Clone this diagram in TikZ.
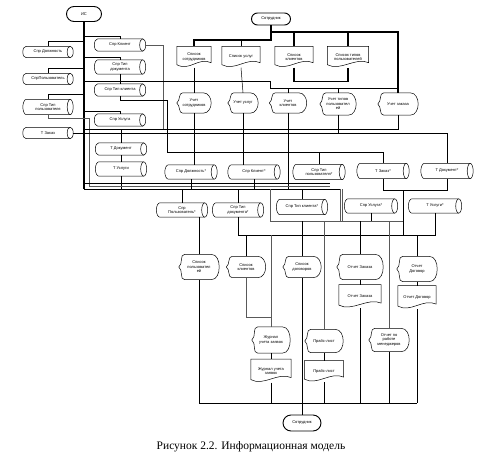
\documentclass[tikz,border=0pt]{standalone}
\usepackage{fontspec}
\setmainfont{Liberation Serif}
\newfontfamily\arialfont{Liberation Sans}
\usetikzlibrary{shapes.misc, positioning, calc}
\newcommand{\nodefont}{\arialfont\fontsize{4}{4.5}\selectfont}

\begin{document}
\begin{tikzpicture}[
    x=1pt, y=1pt,
    term/.style={rounded rectangle, draw, line width=0.9pt, minimum width=40, minimum height=13, inner sep=1pt, font=\nodefont},
    cyl/.style={minimum width=51, minimum height=12, inner sep=0.5pt, align=center, font=\nodefont,
        append after command={\pgfextra{\draw[line width=0.5pt] ($(\tikzlastnode.north west)+(3.5,0)$) -- ($(\tikzlastnode.north east)+(-3,0)$) .. controls +(1.7,0) and +(0,3.6) .. (\tikzlastnode.east) .. controls +(0,-3.6) and +(1.7,0) .. ($(\tikzlastnode.south east)+(-3,0)$) -- ($(\tikzlastnode.south west)+(3.5,0)$) .. controls +(-1.9,0) and +(0,-3.6) .. (\tikzlastnode.west) .. controls +(0,3.6) and +(-1.9,0) .. ($(\tikzlastnode.north west)+(3.5,0)$) -- cycle;
            \draw[line width=0.5pt] ($(\tikzlastnode.north east)+(-3,0)$) .. controls +(-1.7,0) and +(0,3.6) .. ($(\tikzlastnode.east)+(-6,0)$) .. controls +(0,-3.6) and +(-1.7,0) .. ($(\tikzlastnode.south east)+(-3,0)$);}}},
    doc/.style={minimum width=38, minimum height=21, inner sep=0.5pt, align=center, font=\nodefont,
        append after command={\pgfextra{\draw[line width=0.5pt] (\tikzlastnode.north west) -- ($(\tikzlastnode.south west)+(0,3)$) .. controls +(13,-7) and +(-13,6) .. ($(\tikzlastnode.south east)+(0,5)$) -- (\tikzlastnode.north east) -- cycle;}}},
    disp/.style={minimum width=38, minimum height=21, inner sep=0.5pt, align=center, font=\nodefont,
        append after command={\pgfextra{\draw[line width=0.5pt] ($(\tikzlastnode.north west)+(6,0)$) -- ($(\tikzlastnode.north east)+(-8,0)$) to[out=0,in=90] (\tikzlastnode.east) to[out=-90,in=0] ($(\tikzlastnode.south east)+(-8,0)$) -- ($(\tikzlastnode.south west)+(6,0)$) to[out=180,in=-35] (\tikzlastnode.west) to[out=35,in=180] ($(\tikzlastnode.north west)+(6,0)$) -- cycle;}}},
    line/.style={draw, line width=0.5pt},
    grayline/.style={draw, gray!70!black, line width=0.5pt},
    thickline/.style={draw, line width=1.2pt}
]
\useasboundingbox (0,0) rectangle (492,-460);

% Terminators
\node[term, minimum width=37, minimum height=15] (is) at (84,-14) {ИС};
\node[term, minimum width=41, minimum height=12] (sotr1) at (271,-19) {Сотрудник};
\node[term, minimum width=40, minimum height=16] (sotr2) at (302,-423) {Сотрудник};

% Left column
\node[cyl, minimum width=50, minimum height=11] (sprdol) at (48,-52) {Спр Должность};
\node[cyl, minimum width=50, minimum height=11] (sprpol) at (48,-79) {СпрПользователь};
\node[cyl, minimum width=50, minimum height=15] (sprtippol) at (48,-107) {Спр Тип\\пользователя};
\node[cyl, minimum width=50, minimum height=11] (tzakaz) at (48,-133) {Т Заказ};

% Right column
\node[cyl] (sprkl) at (120,-45) {Спр Клиент};
\node[cyl, minimum height=14] (sprtipdoc) at (120,-67) {Спр Тип\\документа};
\node[cyl] (sprtipkl) at (120,-90) {Спр Тип клиента};
\node[cyl] (sprusl) at (120,-120) {Спр Услуга};
\node[cyl] (tdok) at (121,-149) {Т Документ};
\node[cyl, minimum height=14] (tusl) at (121,-169) {Т Услуги};

% Lists
\node[doc, minimum width=34] (spsotr) at (194,-57) {Список\\сотрудников};
\node[doc] (spusl) at (241,-57) {Список услуг};
\node[doc] (spkl) at (294,-57) {Список\\клиентов};
\node[doc, minimum width=41] (sptippol) at (348,-57) {Список типов\\пользователей};

% Accounting
\node[disp, minimum width=34, minimum height=20] (uchsotr) at (194,-103) {Учет\\сотрудников};
\node[disp, minimum width=30, minimum height=20] (uchusl) at (243,-103) {Учет услуг};
\node[disp, minimum width=37, minimum height=20] (uchkl) at (288,-103) {Учет\\клиентов};
\node[disp, minimum width=36, minimum height=22] (uchtippol) at (338,-104) {Учет типов\\пользовател\\ей};
\node[disp, minimum width=40, minimum height=22] (uchzak) at (398,-104) {Учет заказа};

% Middle tables
\node[cyl, minimum width=52, minimum height=14] (sprdol2) at (191,-172) {Спр Должность*};
\node[cyl, minimum width=52, minimum height=14] (sprkl2) at (254,-172) {Спр Клиент*};
\node[cyl, minimum width=52, minimum height=15] (sprtippol2) at (319,-172) {Спр Тип\\пользователя*};
\node[cyl, minimum width=52, minimum height=15] (tzakaz2) at (383,-171) {Т Заказ*};
\node[cyl, minimum width=52, minimum height=15] (tdok2) at (447,-171) {Т Документ*};

\node[cyl, minimum height=14] (sprpol2) at (182,-210) {Спр\\Пользователь*};
\node[cyl, minimum height=14] (sprtipdoc2) at (238,-210) {Спр Тип\\документа*};
\node[cyl, minimum height=15] (sprtipkl2) at (302,-207) {Спр Тип клиента*};
\node[cyl, minimum width=53, minimum height=14] (sprusl2) at (371,-206) {Спр Услуга*};
\node[cyl, minimum width=53, minimum height=14] (tusl2) at (435,-206) {Т Услуги*};

% Outputs
\node[disp, minimum width=40, minimum height=25] (dsppol) at (199,-267) {Список\\пользовател\\ей};
\node[disp, minimum width=39] (dspkl) at (246,-267) {Список\\клиентов};
\node[disp, minimum width=38] (dspdog) at (302,-267) {Список\\договоров};
\node[disp, minimum width=46, minimum height=25] (dotzak) at (360,-267) {Отчет Заказа};
\node[disp, minimum width=40, minimum height=25] (dotdog) at (417,-269) {Отчет\\Договор};
\node[doc, minimum width=42, minimum height=23, below=5pt of dotzak] (otzak) {Отчет Заказа};
\node[doc, minimum width=38, minimum height=23, below=4pt of dotdog] (otdog) {Отчет Договор};

\node[disp, minimum width=38, minimum height=26] (djur) at (271,-340) {Журнал\\учета заявок};
\node[disp, minimum width=38, minimum height=23] (dprice) at (324,-341) {Прайс-лист};
\node[disp, minimum width=40, minimum height=23] (dotman) at (389,-340) {Отчет по\\работе\\менеджеров};
\node[doc, minimum width=40, minimum height=23, below=6pt of djur] (jur) {Журнал учета\\заявок};
\node[doc, minimum width=39, minimum height=21, below=8pt of dprice] (price) {Прайс-лист};

\node[font=\fontsize{11.5}{13}\selectfont] (caption) at (251,-447) {Рисунок 2.2. Информационная модель};

% Bus points
\coordinate (xA) at (163,0);
\coordinate (xB) at (270,0);
\coordinate (xC) at (167,0);
\coordinate (xD) at (330,0);
\coordinate (xE) at (403,0);
\coordinate (xF) at (340,0);
\coordinate (xG) at (89,0);
\coordinate (yA) at (0,-81);
\coordinate (yB) at (0,-88);
\coordinate (yS1) at (0,-32);
\coordinate (yS2) at (0,-40);
\coordinate (y2) at (0,-129);
\coordinate (y4) at (0,-152);
\coordinate (y5) at (0,-183);
\coordinate (y6) at (0,-186);
\coordinate (y7) at (0,-189);
\coordinate (y8) at (0,-221);
\coordinate (y9) at (0,-235);
\coordinate (y10) at (0,-403);

% Trunk from IS
\path[thickline] (is.south) -- (is.south |- y7);
\path[line] (sprdol.north) -- ++(0,5) -| (is.south);
\path[line] (sprpol.north) -- ++(0,5) -| (is.south);
\path[line] (sprtippol.north) -- ++(0,5) -| (is.south);
\path[line] (sprkl.north) -- ++(0,3) -| (is.south);
\path[line] (sprtipdoc.north) -- ++(0,3) -| (is.south);
\path[line] (sprtipkl.north) -- ++(0,3) -| (is.south);
\path[line] (sprusl.north) -- ++(0,3) -| (is.south);
\path[grayline] (sprtippol.south) -- ++(0,-4) -| (xG |- y6);
\path[line] (tzakaz.east) -| (tdok2.north);
\path[line] (tdok.north) -- (tdok.north |- y2);
\path[line] (tdok.south) -- (tusl.north);
\path[line] (tusl.south) -- (tusl.south |- y7);
\path[grayline] (sprkl.east) -| (xA |- y2);
\path[line] (sprtipdoc.south) |- (xB |- yA) -- (xB |- yB) -- (uchzak.north |- yB);
\path[line] (sprtipkl.south) -- ++(0,-4) -| (xC |- y4) -| (tzakaz2.north);

% Employee source
\path[thickline] (sotr1.south) |- (spsotr.north |- yS2) -- (spsotr.north);
\path[thickline] (sotr1.south) |- (uchzak.north |- yS1) -- (uchzak.north);
\path[thickline] (spkl.north) -- (spkl.north |- yS1);
\path[thickline] (sptippol.north) -- (sptippol.north |- yS1);
\path[line] (spusl.north) -- (spusl.north |- yS2);
\path[thickline] (spkl.south) -- ++(0,-14) -| (sptippol.south);

% Lists to accounting
\path[line] (spsotr.south) -- (uchsotr.north);
\path[line] (spusl.south) -- (uchusl.north);
\path[line] (uchkl.north) -- (uchkl.north |- yB);
\path[line] (uchtippol.north) -- (uchtippol.north |- yB);

% Accounting to tables
\path[line] (uchsotr.south) -- (uchsotr.south |- sprdol2.north);
\path[line] (uchusl.south) -- (uchusl.south |- sprkl2.north);
\path[line] (uchkl.south) -- (uchkl.south |- y7);
\path[line] (uchtippol.south) -- (uchtippol.south |- tzakaz.east);
\path[line] (uchzak.south) |- (is.south |- y2);
\path[line] (sprtippol2.north) -- (sprtippol2.north |- y4);

% Lower buses
\path[line] (is.south |- y5) -- (xD |- y5);
\path[grayline] (xG |- y6) -- (xD |- y6);
\path[line] (is.south |- y7) -- (xF |- y7);
\path[grayline] (xF |- y7) -- (xF |- y8);
\path[grayline] ([xshift=2pt]xF |- y7) -- ([xshift=2pt]xF |- y8);
\path[line] (sprdol2.south) -- (sprdol2.south |- y7);
\path[line] (sprkl2.south) -- (sprkl2.south |- y7);
\path[line] (sprpol2.north) -- (sprpol2.north |- y7);
\path[line] (sprtipdoc2.north) -- (sprtipdoc2.north |- y7);
\path[line] (sprtipkl2.north) -- (sprtipkl2.north |- y7);
\path[line] (tzakaz2.south) -- ++(0,-12) coordinate (loopL) -| (tdok2.south);
\path[line] (loopL -| xE) -- (xE |- y9);
\path[grayline] (xB |- y7) -- (xB |- y8) -- (xE |- y8);
\path[line] (sprtipdoc2.south |- y9) -- (tusl2.south |- y9) -- (tusl2.south);
\path[line] (sprusl2.south) -- (sprusl2.south |- y8);
\path[line] (sprtipdoc2.south) -- (sprtipdoc2.south |- y9);

% Outputs
\path[line] (dsppol.north) -- (dsppol.north |- sprpol2.south);
\path[line] (dspkl.north) -- (dspkl.north |- y9);
\path[line] (dspdog.north) -- (dspdog.north |- y8);
\path[line] (dotzak.north) -- (dotzak.north |- y8);
\path[line] (dotdog.north) -- (dotdog.north |- y9);
\path[grayline] (dprice.north) -- (dprice.north |- y8);
\path[grayline] (dotman.north) -- (dotman.north |- y8);
\path[grayline] (djur.north) -- (djur.north |- y9);
\path[grayline] (dspkl.south) -- ++(0,-40) -| (djur.north);
\path[line] (dotzak.south) -- (otzak.north);
\path[line] (dotdog.south) -- (otdog.north);
\path[line] (djur.south) -- (jur.north);
\path[line] (dprice.south) -- (price.north);

% To employee
\path[line] (dsppol.south |- y10) -- (otdog.south |- y10);
\path[line] (dsppol.south) -- (dsppol.south |- y10);
\path[line] (jur.south) -- (jur.south |- y10);
\path[line] (price.south) -- (price.south |- y10);
\path[line] (otzak.south) -- (otzak.south |- y10);
\path[line] (dotman.south) -- (dotman.south |- y10);
\path[line] (otdog.south) -- (otdog.south |- y10);
\path[line] (dspdog.south) -- (sotr2.north);
\end{tikzpicture}
\end{document}
